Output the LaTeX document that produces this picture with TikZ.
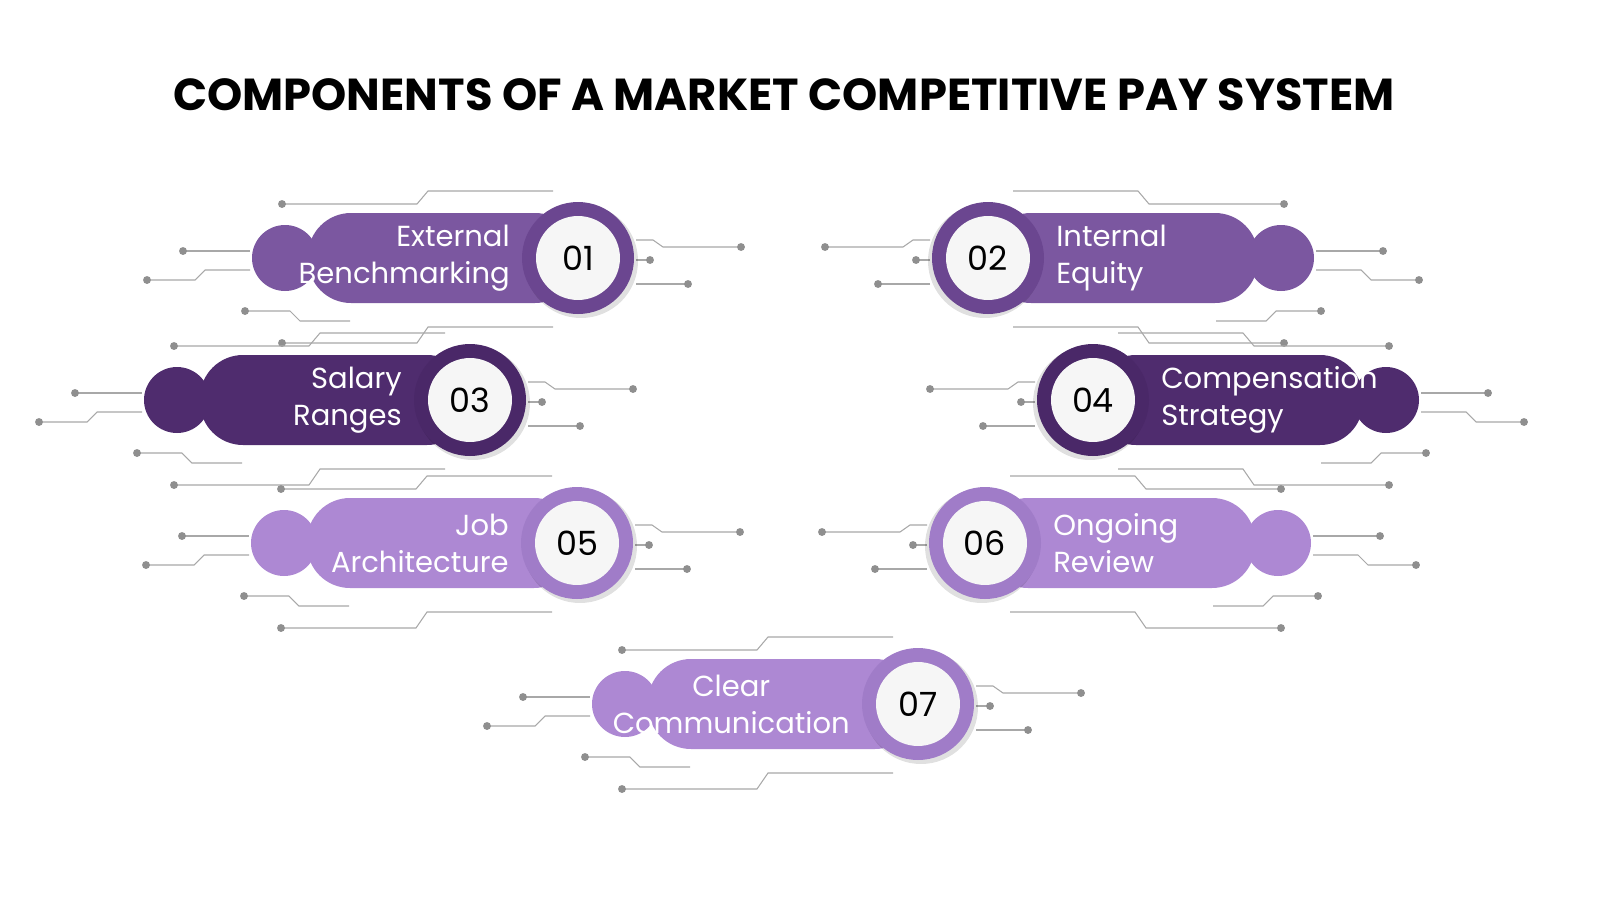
\documentclass[tikz,border=0pt]{standalone}
\usepackage{fontspec}
\setmainfont{Poppins}
\definecolor{pA}{HTML}{7B57A0}\definecolor{rA}{HTML}{6B4690}
\definecolor{pB}{HTML}{4F2C6E}\definecolor{rB}{HTML}{4A2868}
\definecolor{pC}{HTML}{AD88D3}\definecolor{rC}{HTML}{A07CC8}
\definecolor{wire}{HTML}{A8A8A8}\definecolor{inner}{HTML}{F6F6F6}
\tikzset{wireln/.style={wire,line width=0.6pt},
  dotc/.style={circle,fill=wire!85!black,inner sep=0pt,minimum size=4.5pt},
  lbl/.style={text=white,font=\fontsize{16.5}{21}\selectfont,inner sep=0pt,align=#1},
  numl/.style={font=\fontsize{19}{20}\selectfont,text=black}}
\newcommand{\pitem}[9]{% cx cy xscale pill ring text num anchor align
\begin{scope}[shift={(#1,#2)},xscale=#3]
 \draw[wireln] (-296,-54) node[dotc]{} -- (-161,-54) -- (-150,-67) -- (-25,-67);
 \draw[wireln] (-395,-7) node[dotc]{} -- (-328,-7);
 \draw[wireln] (-431,22) node[dotc]{} -- (-383,22) -- (-373,12) -- (-328,12);
 \draw[wireln] (-333,53) node[dotc]{} -- (-288,53) -- (-278,63) -- (-228,63);
 \draw[wireln] (-296,85) node[dotc]{} -- (-161,85) -- (-150,69) -- (-25,69);
 \draw[wireln] (58,-18) -- (75,-18) -- (85,-11) -- (163,-11) node[dotc]{};
 \draw[wireln] (58,2) -- (72,2) node[dotc]{};
 \draw[wireln] (58,26) -- (110,26) node[dotc]{};
 \fill[#4] (-293,0) circle (33);
 \fill[#4,rounded corners=0.86cm] (-270,-45) rectangle (0,45);
 \fill[black,opacity=0.12] (3,3) circle (57);
 \fill[#5] (0,0) circle (56);
 \node[circle,fill=inner,minimum size=42*0.04cm,inner sep=0pt,numl] (n#7) at (0,0) {#7};
 \node[lbl=#9,anchor=#8] (t#7) at (-68,0) {#6};
\end{scope}}
\begin{document}
\begin{tikzpicture}[x=0.02cm,y=-0.02cm]
\useasboundingbox (0,0) rectangle (1600,900);
\node[font=\fontsize{25.5}{28}\selectfont\bfseries] (title) at (784,95) {COMPONENTS OF A MARKET COMPETITIVE PAY SYSTEM};
\pitem{578}{258}{1}{pA}{rA}{External\\Benchmarking}{01}{east}{right}
\pitem{988}{258}{-1}{pA}{rA}{Internal\\Equity}{02}{west}{left}
\pitem{470}{400}{1}{pB}{rB}{Salary\\Ranges}{03}{east}{right}
\pitem{1093}{400}{-1}{pB}{rB}{Compensation\\Strategy}{04}{west}{left}
\pitem{577}{543}{1}{pC}{rC}{Job\\Architecture}{05}{east}{right}
\pitem{985}{543}{-1}{pC}{rC}{Ongoing\\Review}{06}{west}{left}
\pitem{918}{704}{1}{pC}{rC}{Clear\\Communication}{07}{east}{center}
\end{tikzpicture}
\end{document}
